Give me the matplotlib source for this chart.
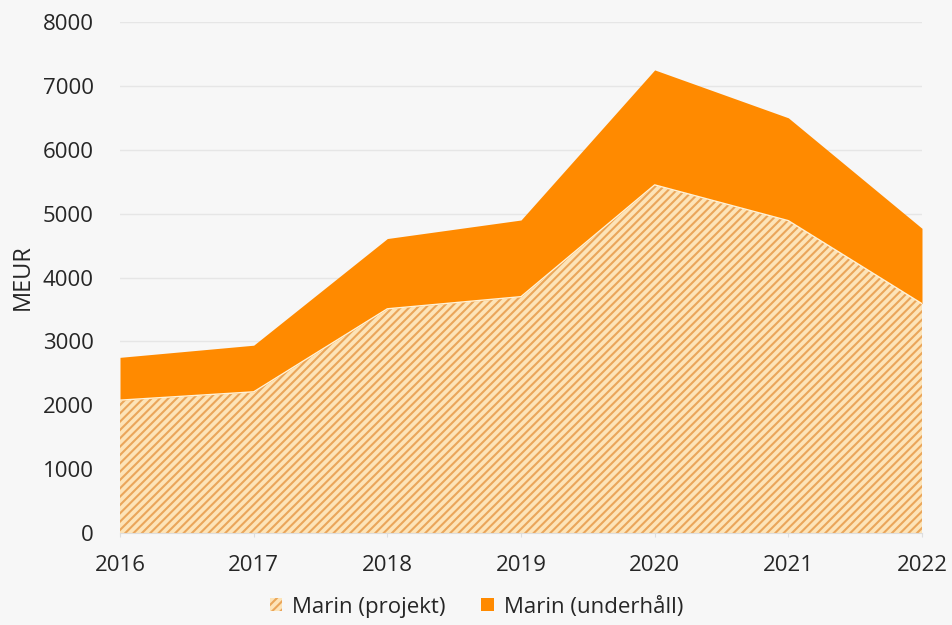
import matplotlib
matplotlib.use("Agg")
import matplotlib.pyplot as plt
import numpy as np
from matplotlib.patches import Patch

years = [2016, 2017, 2018, 2019, 2020, 2021, 2022]
projekt = [2080, 2210, 3510, 3700, 5450, 4890, 3590]
underhall = [670, 730, 1100, 1200, 1800, 1610, 1180]
series_labels = ["Marin (projekt)", "Marin (underhåll)"]
y_ticks = [0, 1000, 2000, 3000, 4000, 5000, 6000, 7000, 8000]

plt.rcParams['font.family'] = ['Open Sans', 'DejaVu Sans']
plt.rcParams['hatch.linewidth'] = 1.5

bg = '#f7f7f7'
text_col = '#262626'
orange = '#ff8a00'
hatch_col = '#eaa65a'
hatch_bg = '#fde4b8'

fig = plt.figure(figsize=(9.53, 6.25), dpi=100, facecolor=bg)
ax = fig.add_axes([120/953, 1-533/625, (922-120)/953, (533-22)/625])
ax.set_facecolor(bg)

p = np.array(projekt)
u = np.array(underhall)
ax.fill_between(years, 0, p, facecolor=hatch_bg, edgecolor=hatch_col, hatch='////', linewidth=0, zorder=2)
ax.plot(years, p, color='#fff2d8', lw=1.0, zorder=3)
ax.fill_between(years, p, p + u, facecolor=orange, edgecolor=orange, linewidth=0, zorder=2)

ax.set_xlim(2016, 2022)
ax.set_ylim(0, 8000)
ax.set_xticks(years)
ax.set_xticklabels([str(y) for y in years])
ax.set_yticks(y_ticks)
ax.set_yticklabels([str(v) for v in y_ticks])
ax.grid(axis='y', color='#e6e6e6', lw=1.0, zorder=0)
for s in ['top', 'right', 'left']:
    ax.spines[s].set_visible(False)
ax.spines['bottom'].set_color('#dddddd')
ax.tick_params(axis='y', length=0, pad=19, labelsize=16, labelcolor=text_col)
ax.tick_params(axis='x', length=3, color='#dddddd', pad=13, labelsize=16, labelcolor=text_col)
ax.set_ylabel('MEUR', fontsize=17, color=text_col, labelpad=6)

handles = [Patch(facecolor=hatch_bg, edgecolor=hatch_col, hatch='////', lw=0),
           Patch(facecolor=orange, edgecolor=orange, lw=0)]
fig.legend(handles, series_labels, loc='center', bbox_to_anchor=(0.5, 1-607/625),
           ncol=2, frameon=False, fontsize=16, handlelength=0.55, handleheight=0.55,
           handletextpad=0.45, columnspacing=1.6, labelcolor=text_col)

fig.savefig('out.png', dpi=100, facecolor=bg)
